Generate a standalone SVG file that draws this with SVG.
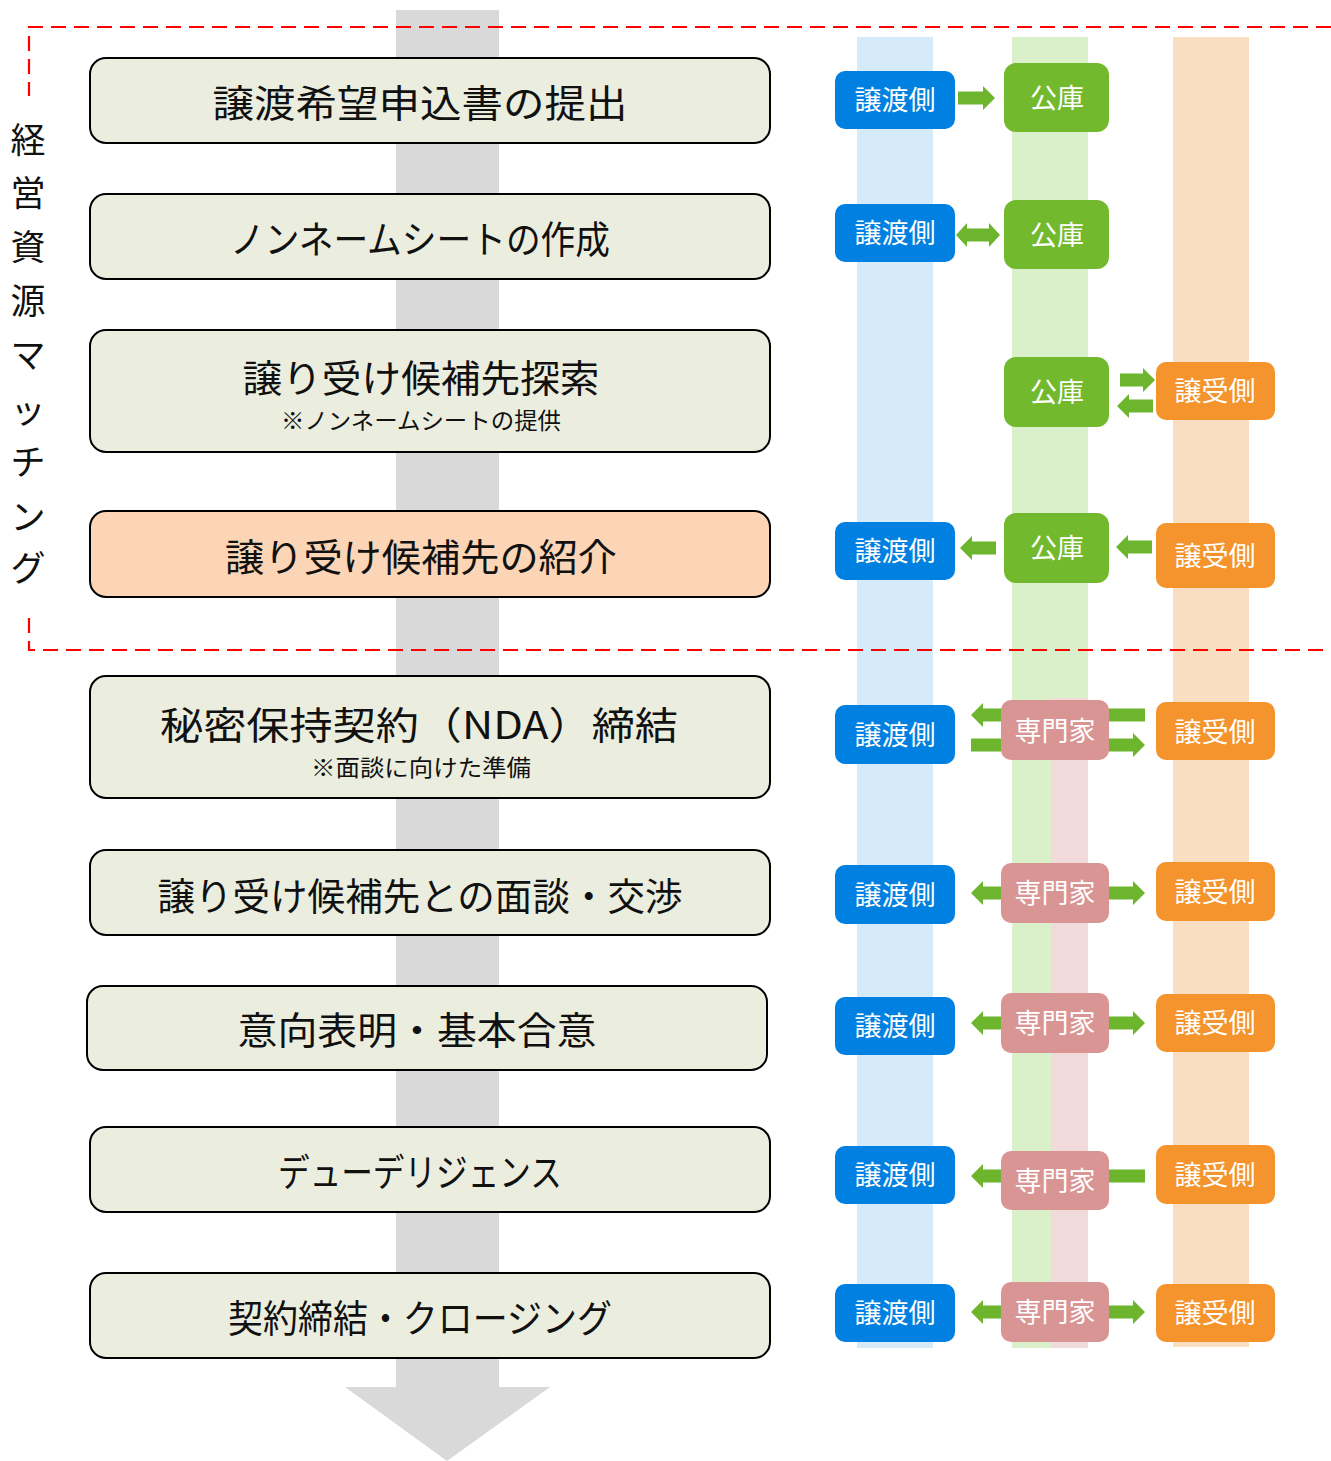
<svg xmlns="http://www.w3.org/2000/svg" width="1331" height="1461" viewBox="0 0 1331 1461">
<style>
.step{fill:#EBEEDF;stroke:#000;stroke-width:2}
.t{font-family:"Noto Sans CJK JP","Noto Sans",sans-serif;fill:#111;text-anchor:middle;dominant-baseline:central}
.big{font-size:38px}
.sub{font-size:23px}
.w{font-family:"Noto Sans CJK JP","Noto Sans",sans-serif;fill:#fff;font-size:27px;text-anchor:middle;dominant-baseline:central}
.side{font-family:"Noto Sans CJK JP","Noto Sans",sans-serif;fill:#111;font-size:35px;text-anchor:middle;dominant-baseline:central}
.blue{fill:#0080E0}
.green{fill:#72B92E}
.orange{fill:#F5932D}
.pink{fill:#D99594}
.arr{fill:#6DB52D}
.dash{fill:none;stroke:#FF0000;stroke-width:2.2;stroke-dasharray:15 8}
</style>
<rect width="1331" height="1461" fill="#fff"/>
<g id="lanes">
<rect x="857" y="37" width="76" height="1311" fill="#D6EBFA"/>
<rect x="1012" y="37" width="76" height="1311" fill="#DAF0CB"/>
<rect x="1051" y="698" width="37" height="650" fill="#F0DADA"/>
<rect x="1173" y="37" width="76" height="1310" fill="#FADEC1"/>
</g>
<g id="flow-arrow">
<path d="M396 10 H499 V1387 H550 L447 1461 L345 1387 H396 Z" fill="#D9D9D9"/>
</g>
<g id="matching-frame">
<path class="dash" d="M1331 27 H29 V96"/>
<path class="dash" d="M29 618 V650 H1331"/>
<text class="side"><tspan x="28" y="137">経</tspan><tspan x="28" y="190">営</tspan><tspan x="28" y="244">資</tspan><tspan x="28" y="298">源</tspan><tspan x="28" y="352">マ</tspan><tspan x="28" y="407">ッ</tspan><tspan x="28" y="459">チ</tspan><tspan x="28" y="514">ン</tspan><tspan x="28" y="565">グ</tspan></text>
</g>
<g id="step1"><rect class="step" x="90" y="58" width="680" height="85" rx="16"/><text class="t big" x="420" y="100" textLength="415" lengthAdjust="spacingAndGlyphs">譲渡希望申込書の提出</text></g>
<g id="step2"><rect class="step" x="90" y="194" width="680" height="85" rx="16"/><text class="t big" x="420" y="236" textLength="380" lengthAdjust="spacingAndGlyphs">ノンネームシートの作成</text></g>
<g id="step3"><rect class="step" x="90" y="330" width="680" height="122" rx="16"/><text class="t big" x="421" y="375" textLength="357" lengthAdjust="spacingAndGlyphs">譲り受け候補先探索</text><text class="t sub" x="421" y="419" textLength="280" lengthAdjust="spacingAndGlyphs">※ノンネームシートの提供</text></g>
<g id="step4"><rect class="step" x="90" y="511" width="680" height="86" rx="16" style="fill:#FBD5B5"/><text class="t big" x="421" y="554" textLength="392" lengthAdjust="spacingAndGlyphs">譲り受け候補先の紹介</text></g>
<g id="step5"><rect class="step" x="90" y="676" width="680" height="122" rx="16"/><text class="t big" x="419" y="722" textLength="518" lengthAdjust="spacingAndGlyphs">秘密保持契約（NDA）締結</text><text class="t sub" x="421" y="766" textLength="220" lengthAdjust="spacingAndGlyphs">※面談に向けた準備</text></g>
<g id="step6"><rect class="step" x="90" y="850" width="680" height="85" rx="16"/><text class="t big" x="420" y="893" textLength="525" lengthAdjust="spacingAndGlyphs">譲り受け候補先との面談・交渉</text></g>
<g id="step7"><rect class="step" x="87" y="986" width="680" height="84" rx="16"/><text class="t big" x="417" y="1027" textLength="359" lengthAdjust="spacingAndGlyphs">意向表明・基本合意</text></g>
<g id="step8"><rect class="step" x="90" y="1127" width="680" height="85" rx="16"/><text class="t big" x="420" y="1169" textLength="284" lengthAdjust="spacingAndGlyphs">デューデリジェンス</text></g>
<g id="step9"><rect class="step" x="90" y="1273" width="680" height="85" rx="16"/><text class="t big" x="420" y="1315" textLength="384" lengthAdjust="spacingAndGlyphs">契約締結・クロージング</text></g>
<g id="connectors" class="arr">
<path d="M958 91.5 H983 V86 L995 98 L983 110 V104.5 H958 Z"/>
<path d="M956 235 L967 223 V228.5 H989 V223 L1000 235 L989 247 V241.5 H967 V247 Z"/>
<path d="M1120 373.5 H1143 V368 L1155 380 L1143 392 V386.5 H1120 Z"/>
<path d="M1153 399.5 H1129 V394 L1117 406 L1129 418 V412.5 H1153 Z"/>
<path d="M996 541.5 H972 V536 L960 548 L972 560 V554.5 H996 Z"/>
<path d="M1152 540.5 H1128 V535 L1116 547 L1128 559 V553.5 H1152 Z"/>
<path d="M1145 708.5 H983 V703 L971 715 L983 727 V721.5 H1145 Z"/>
<path d="M971 738.5 H1133 V733 L1145 745 L1133 757 V751.5 H971 Z"/>
<path d="M971 893 L983 881 V886.5 H1133 V881 L1145 893 L1133 905 V899.5 H983 V905 Z"/>
<path d="M971 1023 L983 1011 V1016.5 H1133 V1011 L1145 1023 L1133 1035 V1029.5 H983 V1035 Z"/>
<path d="M1145 1169.5 H983 V1164 L971 1176 L983 1188 V1182.5 H1145 Z"/>
<path d="M971 1312 L983 1300 V1305.5 H1133 V1300 L1145 1312 L1133 1324 V1318.5 H983 V1324 Z"/>
</g>
<g id="r1-seller"><rect class="blue" x="835" y="71" width="120" height="58" rx="10"/><text class="w" x="895" y="98">譲渡側</text></g>
<g id="r1-koko"><rect class="green" x="1004" y="63" width="105" height="69" rx="12"/><text class="w" x="1057" y="96">公庫</text></g>
<g id="r2-seller"><rect class="blue" x="835" y="204" width="120" height="58" rx="10"/><text class="w" x="895" y="231">譲渡側</text></g>
<g id="r2-koko"><rect class="green" x="1004" y="200" width="105" height="69" rx="12"/><text class="w" x="1057" y="233">公庫</text></g>
<g id="r3-koko"><rect class="green" x="1004" y="357" width="105" height="70" rx="12"/><text class="w" x="1057" y="390">公庫</text></g>
<g id="r3-buyer"><rect class="orange" x="1156" y="362" width="119" height="58" rx="10"/><text class="w" x="1215" y="389">譲受側</text></g>
<g id="r4-seller"><rect class="blue" x="835" y="522" width="120" height="58" rx="10"/><text class="w" x="895" y="549">譲渡側</text></g>
<g id="r4-koko"><rect class="green" x="1004" y="513" width="105" height="70" rx="12"/><text class="w" x="1057" y="546">公庫</text></g>
<g id="r4-buyer"><rect class="orange" x="1156" y="523" width="119" height="65" rx="10"/><text class="w" x="1215" y="554">譲受側</text></g>
<g id="r5-seller"><rect class="blue" x="835" y="705" width="120" height="59" rx="10"/><text class="w" x="895" y="733">譲渡側</text></g>
<g id="r5-expert"><rect class="pink" x="1001" y="700" width="108" height="60" rx="10"/><text class="w" x="1055" y="729">専門家</text></g>
<g id="r5-buyer"><rect class="orange" x="1156" y="702" width="119" height="58" rx="10"/><text class="w" x="1215" y="730">譲受側</text></g>
<g id="r6-seller"><rect class="blue" x="835" y="865" width="120" height="59" rx="10"/><text class="w" x="895" y="893">譲渡側</text></g>
<g id="r6-expert"><rect class="pink" x="1001" y="863" width="108" height="60" rx="10"/><text class="w" x="1055" y="891">専門家</text></g>
<g id="r6-buyer"><rect class="orange" x="1156" y="862" width="119" height="59" rx="10"/><text class="w" x="1215" y="890">譲受側</text></g>
<g id="r7-seller"><rect class="blue" x="835" y="997" width="120" height="58" rx="10"/><text class="w" x="895" y="1024">譲渡側</text></g>
<g id="r7-expert"><rect class="pink" x="1001" y="993" width="108" height="60" rx="10"/><text class="w" x="1055" y="1021">専門家</text></g>
<g id="r7-buyer"><rect class="orange" x="1156" y="994" width="119" height="58" rx="10"/><text class="w" x="1215" y="1021">譲受側</text></g>
<g id="r8-seller"><rect class="blue" x="835" y="1146" width="120" height="58" rx="10"/><text class="w" x="895" y="1173">譲渡側</text></g>
<g id="r8-expert"><rect class="pink" x="1001" y="1151" width="108" height="59" rx="10"/><text class="w" x="1055" y="1179">専門家</text></g>
<g id="r8-buyer"><rect class="orange" x="1156" y="1145" width="119" height="59" rx="10"/><text class="w" x="1215" y="1173">譲受側</text></g>
<g id="r9-seller"><rect class="blue" x="835" y="1284" width="120" height="58" rx="10"/><text class="w" x="895" y="1311">譲渡側</text></g>
<g id="r9-expert"><rect class="pink" x="1001" y="1282" width="108" height="60" rx="10"/><text class="w" x="1055" y="1310">専門家</text></g>
<g id="r9-buyer"><rect class="orange" x="1156" y="1284" width="119" height="58" rx="10"/><text class="w" x="1215" y="1311">譲受側</text></g>
</svg>
